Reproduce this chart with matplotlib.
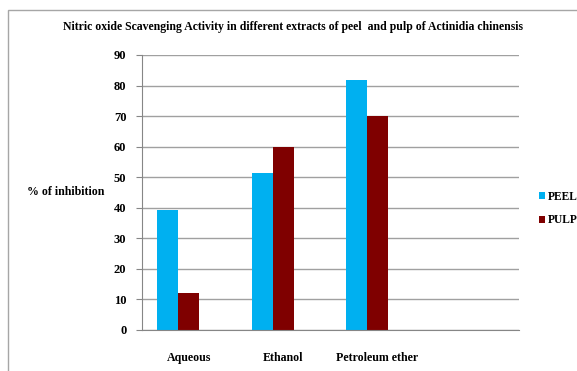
import numpy as np
import matplotlib.pyplot as plt
from matplotlib.patches import Rectangle

categories = ["Aqueous", "Ethanol", "Petroleum ether", ""]
peel = [39.3, 51.4, 81.8]
pulp = [12.2, 59.9, 70.0]
yticks = [0, 10, 20, 30, 40, 50, 60, 70, 80, 90]

plt.rcParams["font.family"] = ["Liberation Serif", "DejaVu Serif"]
plt.rcParams["font.weight"] = "bold"

fig = plt.figure(figsize=(5.77, 3.71), dpi=100)
fig.patches.append(Rectangle((8 / 577, -0.05), 1.2, 1 - 10 / 371 + 0.05,
                             transform=fig.transFigure, fill=False,
                             edgecolor="#a6a6a6", linewidth=1.0))
ax = fig.add_axes([141.7 / 577, 1 - 330 / 371, (519 - 141.7) / 577, (330 - 55) / 371])

w = 0.222
x = np.arange(len(peel))
ax.bar(x - w, peel, width=w, color="#00b0f0", label="PEEL")
ax.bar(x, pulp, width=w, color="#7f0000", label="PULP")

ax.set_xlim(-0.5, 3.5)
ax.set_ylim(0, 90)
ax.set_yticks(yticks)
ax.set_xticks(range(len(categories)))
ax.set_xticklabels(categories, fontsize=8.6, fontweight="bold")
ax.tick_params(axis="x", length=0, pad=16)
ax.tick_params(axis="y", labelsize=9, length=4, color="#868686", pad=7)
for lbl in ax.get_yticklabels():
    lbl.set_fontweight("bold")

ax.grid(axis="y", color="#a0a0a0", linewidth=1.0)
ax.set_axisbelow(True)
for s in ["top", "right"]:
    ax.spines[s].set_visible(False)
ax.spines["left"].set_color("#868686")
ax.spines["bottom"].set_color("#868686")

fig.text(27 / 577, 1 - 192 / 371, "% of inhibition", fontsize=8.6,
         fontweight="bold", va="center", ha="left")
fig.text(293 / 577, 1 - 27 / 371,
         "Nitric oxide Scavenging Activity in different extracts of peel  and pulp of Actinidia chinensis",
         fontsize=8.5, fontweight="bold", ha="center", va="center")

fig.legend(loc="upper left", bbox_to_anchor=(533 / 577, 1 - 185 / 371),
           frameon=False, fontsize=8.3, handlelength=0.55, handleheight=0.55,
           handletextpad=0.2, labelspacing=1.0, borderpad=0)

fig.savefig("out.png", dpi=100)
